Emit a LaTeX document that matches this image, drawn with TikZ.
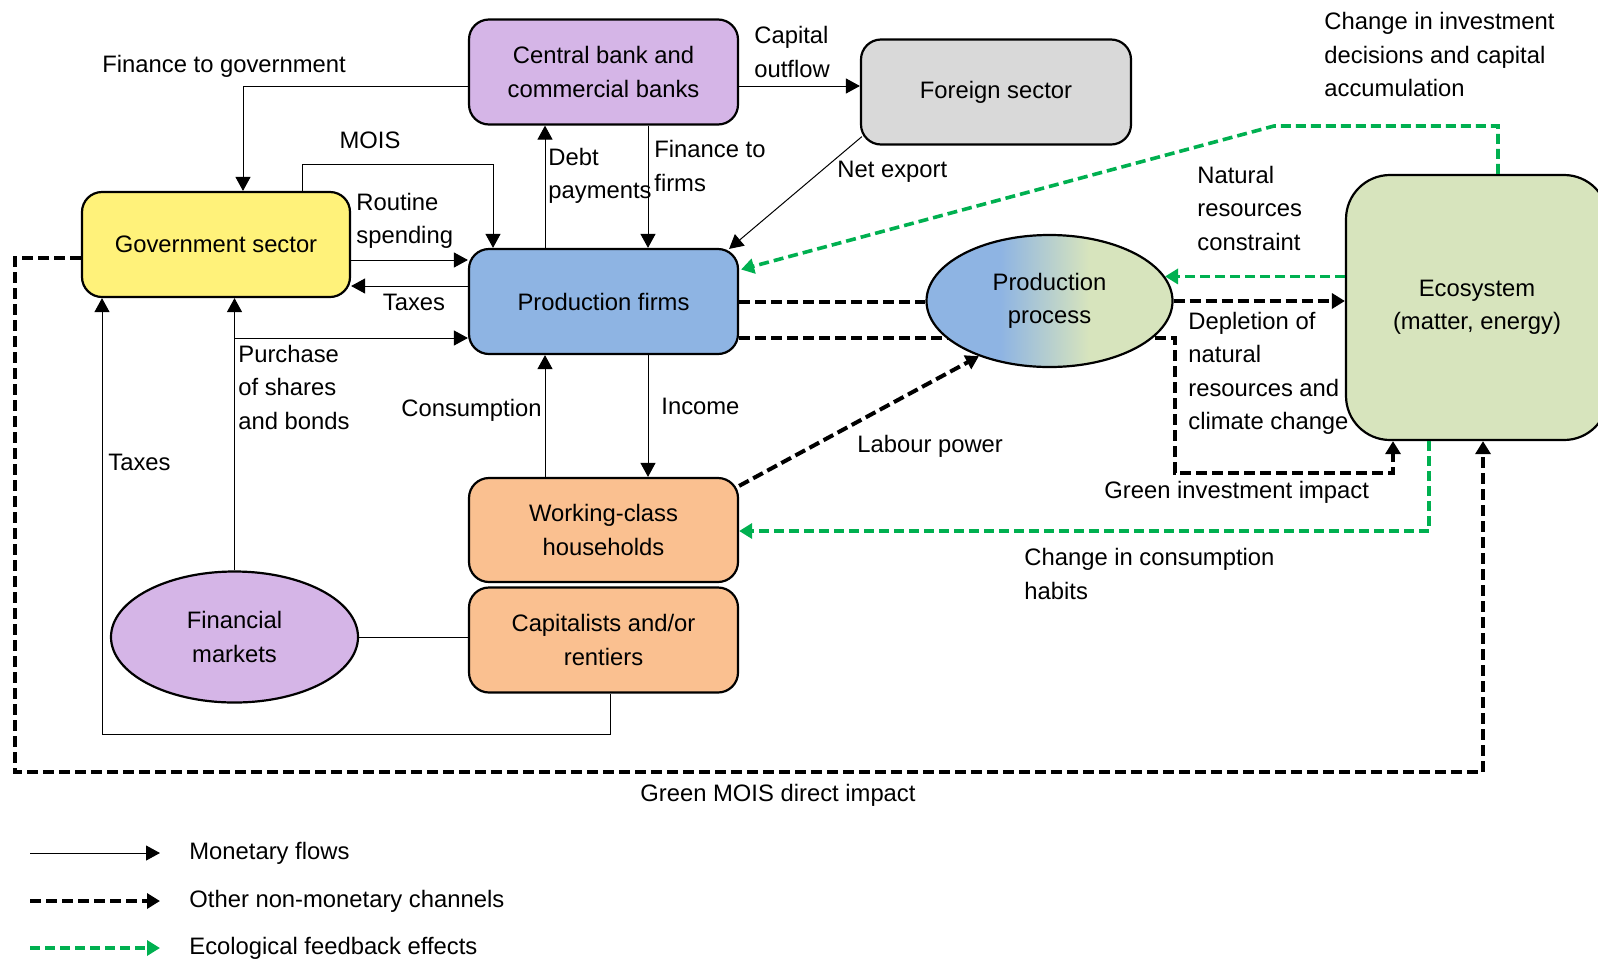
\documentclass[tikz,border=0pt]{standalone}
\usepackage{fontspec}
\setmainfont{Liberation Sans}
\usetikzlibrary{arrows.meta,shapes.geometric}

\definecolor{bankcol}{RGB}{213,181,231}
\definecolor{govcol}{RGB}{255,242,122}
\definecolor{firmcol}{RGB}{142,180,227}
\definecolor{housecol}{RGB}{250,192,144}
\definecolor{forcol}{RGB}{217,217,217}
\definecolor{ecocol}{RGB}{215,228,189}
\definecolor{fbgreen}{RGB}{0,176,80}

\pgfdeclarehorizontalshading{ppshade}{100bp}{color(0bp)=(firmcol); color(40bp)=(firmcol); color(58bp)=(ecocol); color(100bp)=(ecocol)}

\begin{document}
\begin{tikzpicture}[x=0.5pt, y=-0.5pt,
		font=\fontsize{11.9}{16.75}\selectfont,
		box/.style={draw, line width=1.1pt, rounded corners=10pt, minimum width=134.5pt, minimum height=52.5pt, align=center, inner sep=0pt},
		blob/.style={draw, ellipse, line width=1.1pt, align=center, inner sep=0pt},
		lbl/.style={align=left, inner sep=0pt},
		mon/.style={line width=0.5pt, -{Triangle[length=7pt,width=7.5pt]}},
		nonmon/.style={line width=2pt, dash pattern=on 5.5pt off 2.5pt, -{Triangle[length=6.5pt,width=7.5pt]}},
		ecofb/.style={nonmon, line width=1.8pt, dash pattern=on 5pt off 2.5pt, fbgreen}]
		\useasboundingbox (0,0) rectangle (1598,964);
		
		% Sectors
		\node[box, fill=bankcol] (cb) at (603.5,72) {Central bank and\\commercial banks};
		\node[box, fill=forcol, minimum width=135pt] (foreign) at (996,92) {Foreign sector};
		\node[box, fill=govcol, minimum width=134pt] (gov) at (216,244.5) {Government sector};
		\node[box, fill=firmcol] (firms) at (603.5,301.5) {Production firms};
		\node[box, fill=housecol, minimum height=52pt] (work) at (603.5,530) {Working-class\\households};
		\node[box, fill=housecol] (cap) at (603.5,640) {Capitalists and/or\\rentiers};
		\node[blob, fill=bankcol, minimum width=123.5pt, minimum height=65.5pt] (fin) at (234.5,637) {Financial\\markets};
		\node[box, fill=ecocol, rounded corners=22pt, minimum width=131pt, minimum height=132.5pt] (eco) at (1477,307.5) {Ecosystem\\(matter, energy)};
		
		% Green investment impact (runs behind the production process)
		\draw[nonmon] (firms.east |- 0,338) -- (1175,338) |- (1393,473) -- (1393,0 |- eco.south);
		
		% Production process
		\node[blob, shade, shading=ppshade, minimum width=123pt, minimum height=66pt] (pp) at (1049.5,301) {Production\\process};
		
		% Monetary flows
		\draw[mon] (cb.west |- 0,86) -| (243,0 |- gov.north);
		\draw[mon] (302,0 |- gov.north) |- (493,164) -- (493,0 |- firms.north);
		\draw[mon] (gov.east |- 0,260) -- (firms.west |- 0,260);
		\draw[mon] (firms.west |- 0,286) -- (gov.east |- 0,286);
		\draw[mon] (fin.north) -- (fin.north |- gov.south);
		\draw[mon] (fin.north |- 0,338) -- (firms.west |- 0,338);
		\draw[mon] (610,0 |- cap.south) |- (102,734) -- (102,0 |- gov.south);
		\draw[line width=0.5pt] (fin.east) -- (fin.east -| cap.west);
		\draw[mon] (545,0 |- firms.north) -- (545,0 |- cb.south);
		\draw[mon] (648,0 |- cb.south) -- (648,0 |- firms.north);
		\draw[mon] (cb.east |- 0,86) -- (foreign.west |- 0,86);
		\draw[mon] ([shift={(2,-9)}]foreign.south west) -- ([shift={(-10,1)}]firms.north east);
		\draw[mon] (545,0 |- work.north) -- (545,0 |- firms.south);
		\draw[mon] (648,0 |- firms.south) -- (648,0 |- work.north);
		
		% Other non-monetary channels
		\draw[nonmon, -] (firms.east) -- (firms.east -| pp.west);
		\draw[nonmon] (pp.east) -- (pp.east -| eco.west);
		\draw[nonmon] ([shift={(0,9)}]work.north east) -- (pp.218);
		\draw[nonmon] (gov.west |- 0,258) -| (15,772) -| (1483,0 |- eco.south);
		
		% Ecological feedback effects
		\draw[ecofb] (eco.west |- pp.12) -- (pp.12);
		\draw[ecofb] (1498,0 |- eco.north) |- (1274,126) -- ([shift={(2,-32)}]firms.east);
		\draw[ecofb] (1429,0 |- eco.south) |- (work.east |- 0,531);
		
		% Labels
		\node[lbl, anchor=west] (l1) at (102,66) {Finance to government};
		\node[lbl] (l2) at (370,140) {MOIS};
		\node[lbl, anchor=west] (l3) at (356,221) {Routine\\spending};
		\node[lbl] (l4) at (414,302) {Taxes};
		\node[lbl, anchor=west] (l5) at (238,387) {Purchase\\of shares\\and bonds};
		\node[lbl, anchor=west] (l6) at (108,462) {Taxes};
		\node[lbl, anchor=west] (l7) at (548,176) {Debt\\payments};
		\node[lbl, anchor=west] (l8) at (654,166) {Finance to\\firms};
		\node[lbl, anchor=west] (l9) at (754,52) {Capital\\outflow};
		\node[lbl, anchor=west] (l10) at (837,172) {Net export};
		\node[lbl, anchor=east] (l11) at (542,410) {Consumption};
		\node[lbl, anchor=west] (l12) at (661,406) {Income};
		\node[lbl, anchor=west] (l13) at (857,446) {Labour power};
		\node[lbl, anchor=west] (l14) at (1197,208) {Natural\\resources\\constraint};
		\node[lbl, anchor=west] (l15) at (1324,54.5) {Change in investment\\decisions and capital\\accumulation};
		\node[lbl, anchor=west] (l16) at (1188,373.5) {Depletion of\\natural\\resources and\\climate change};
		\node[lbl, anchor=west] (l17) at (1104,492) {Green investment impact};
		\node[lbl, anchor=west] (l18) at (1024,574) {Change in consumption\\habits};
		\node[lbl, anchor=west] (l19) at (640,795) {Green MOIS direct impact};
		
		% Legend
		\node[lbl, anchor=west] (lg1) at (189,853) {Monetary flows};
		\node[lbl, anchor=west] (lg2) at (189,901) {Other non-monetary channels};
		\node[lbl, anchor=west] (lg3) at (189,948) {Ecological feedback effects};
		\draw[mon] (30,853) -- (160,853);
		\draw[nonmon] (30,901) -- (160,901);
		\draw[ecofb] (30,948) -- (160,948);
	\end{tikzpicture}
\end{document}
